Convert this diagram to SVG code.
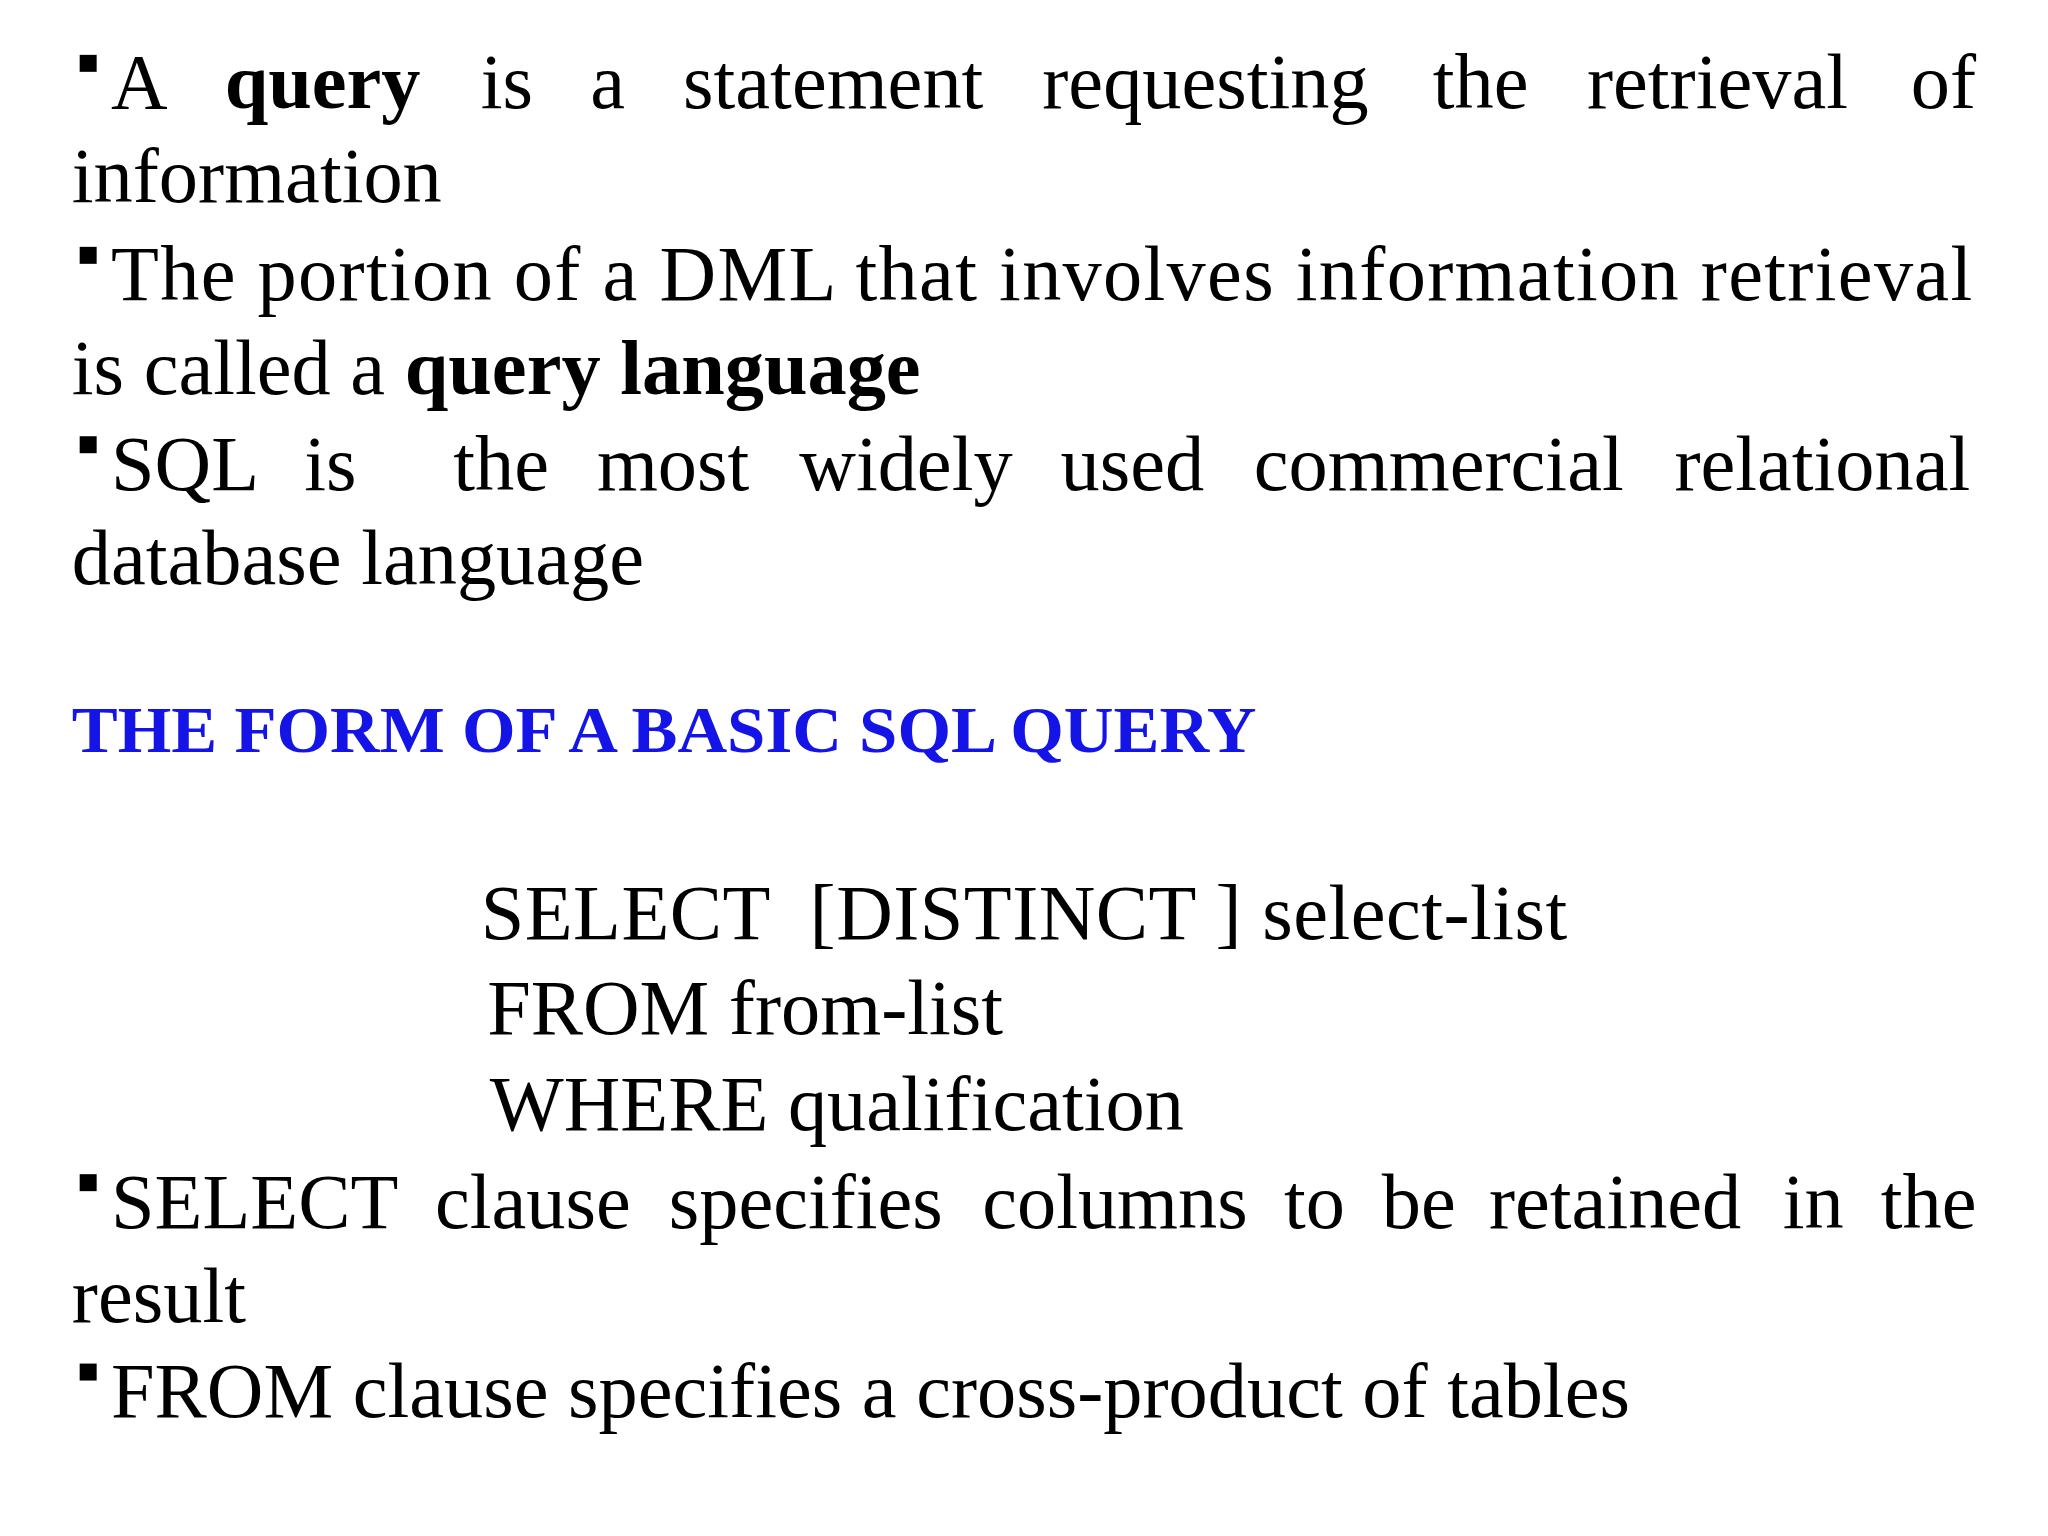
<svg xmlns="http://www.w3.org/2000/svg" width="2048" height="1536" viewBox="0 0 2048 1536">
<style>
text{font-family:"Liberation Serif","Times New Roman",serif;font-size:60px;fill:#000}
.b{font-weight:bold}
.h{font-weight:bold;fill:#1414e6;font-size:50px}
.bl{fill:#000}
</style>
<rect width="2048" height="1536" fill="#fff"/>
<g transform="scale(1.3061)">
<g id="bullets">
<rect class="bl" x="61" y="42" width="13" height="13"/>
<rect class="bl" x="61" y="189" width="13" height="13"/>
<rect class="bl" x="61" y="334" width="13" height="13"/>
<rect class="bl" x="61" y="899" width="13" height="13"/>
<rect class="bl" x="61" y="1044" width="13" height="13"/>
</g>
<g id="p1">
<text x="85" y="83">A</text><text x="172" y="83" class="b">query</text><text x="368" y="83">is</text><text x="452" y="83">a</text><text x="523" y="83">statement</text><text x="798" y="83">requesting</text><text x="1097" y="83">the</text><text x="1215" y="83">retrieval</text><text x="1463" y="83">of</text>
<text x="55" y="155">information</text>
</g>
<g id="p2">
<text x="85" y="230" textLength="1425" lengthAdjust="spacing">The portion of a DML that involves information retrieval</text>
<text x="55" y="302">is called a <tspan class="b">query language</tspan></text>
</g>
<g id="p3">
<text x="85" y="375">SQL</text><text x="233" y="375">is</text><text x="347" y="375">the</text><text x="457" y="375">most</text><text x="612" y="375">widely</text><text x="812" y="375">used</text><text x="960" y="375">commercial</text><text x="1282" y="375">relational</text>
<text x="55" y="447">database language</text>
</g>
<g id="heading">
<text x="55" y="576" class="h" textLength="907" lengthAdjust="spacingAndGlyphs">THE FORM OF A BASIC SQL QUERY</text>
</g>
<g id="query">
<text x="368" y="719" textLength="832" lengthAdjust="spacing" xml:space="preserve">SELECT  [DISTINCT ] select-list</text>
<text x="373" y="792">FROM from-list</text>
<text x="375" y="865">WHERE qualification</text>
</g>
<g id="p4">
<text x="85" y="940">SELECT</text><text x="333" y="940">clause</text><text x="512" y="940">specifies</text><text x="752" y="940">columns</text><text x="983" y="940">to</text><text x="1058" y="940">be</text><text x="1140" y="940">retained</text><text x="1365" y="940">in</text><text x="1440" y="940">the</text>
<text x="55" y="1012">result</text>
</g>
<g id="p5">
<text x="85" y="1085">FROM clause specifies a cross-product of tables</text>
</g>
</g>
</svg>
